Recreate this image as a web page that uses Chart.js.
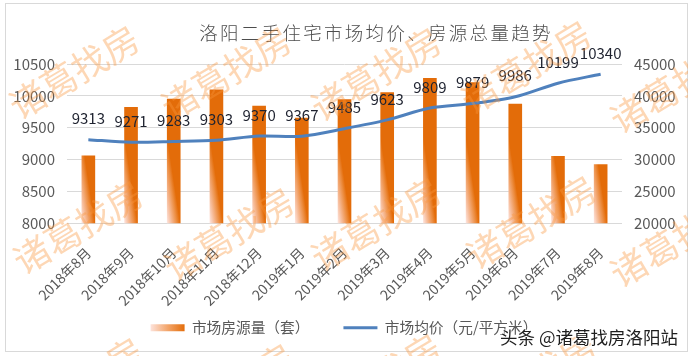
<!DOCTYPE html>
<html>
<head>
<meta charset="utf-8">
<script src="https://cdn.jsdelivr.net/npm/chart.js@4/dist/chart.umd.min.js"></script>
<style>
  html, body { margin: 0; padding: 0; background: #fff; }
  #wrap { position: relative; width: 688px; height: 356px; overflow: hidden; }
  #c { position: absolute; left: 0; top: 0; }
  #frame { position: absolute; left: 5px; top: 3px; width: 681px; height: 347px; border: 1px solid #d9d9d9; pointer-events: none; }
  #title { position: absolute; left: 376px; top: 19px; transform: translateX(-50%); white-space: nowrap;
           font-family: "Noto Sans CJK SC", sans-serif; font-weight: 300; font-size: 18.5px; letter-spacing: 2.3px; color: #4d4d4d; line-height: 26px; }
  .wm { position: absolute; white-space: nowrap; font-family: "Noto Sans CJK SC", sans-serif; font-size: 36px; line-height: 40px;
        color: rgba(250, 150, 60, 0.38); transform: translate(-50%, -50%) rotate(-31deg); pointer-events: none; }
  #credit { position: absolute; left: 500px; top: 325px; white-space: nowrap; font-family: "Noto Sans CJK SC", sans-serif; font-size: 17.5px; line-height: 24px;
            color: #1e1e1e; text-shadow: 0 0 2px #fff, 0 0 2px #fff, 1px 1px 1px #fff, -1px -1px 1px #fff; }
</style>
</head>
<body>
<div id="wrap">
  <canvas id="c" width="688" height="356"></canvas>
  <div id="title"></div>
  <div id="frame"></div>
  <div id="wms"></div>
  <div id="credit">头条 @诸葛找房洛阳站</div>
</div>
<script>
// ---- data ----
const TITLE = "洛阳二手住宅市场均价、房源总量趋势";
const CATEGORIES = ["2018年8月","2018年9月","2018年10月","2018年11月","2018年12月","2019年1月","2019年2月","2019年3月","2019年4月","2019年5月","2019年6月","2019年7月","2019年8月"];
const LISTINGS = [30600, 38200, 39500, 40950, 38400, 36500, 39400, 40500, 42750, 42100, 38700, 30500, 29200];
const AVG_PRICE = [9313, 9271, 9283, 9303, 9370, 9367, 9485, 9623, 9809, 9879, 9986, 10199, 10340];
const SERIES_NAMES = ["市场房源量（套）", "市场均价（元/平方米）"];
const LEFT_TICKS = [8000, 8500, 9000, 9500, 10000, 10500];
const RIGHT_TICKS = [20000, 25000, 30000, 35000, 40000, 45000];
const WATERMARK_TEXT = "诸葛找房";

// ---- decoration ----
document.getElementById('title').textContent = TITLE;
const WM_POS = [[73,70],[225,71],[375,72],[525,65],[674,84],
                [77,225],[228,232],[375,222],[530,220],[674,238],
                [77,382],[228,388],[375,378],[530,376],[674,394]];
const wms = document.getElementById('wms');
WM_POS.forEach(([x,y]) => {
  const d = document.createElement('div');
  d.className = 'wm'; d.textContent = WATERMARK_TEXT;
  d.style.left = x + 'px'; d.style.top = y + 'px';
  wms.appendChild(d);
});

// ---- styles ----
const BLUE = '#4f81bd';
const ORANGE = '#e36c09';
const GRID = '#d9d9d9';
const TICK_COLOR = '#595959';
const BAR_W = 13;
const SANS = '"Noto Sans CJK SC", "Liberation Sans", sans-serif';

function barGradient(ctx) {
  const chart = ctx.chart;
  if (!chart.chartArea || !chart.scales.x || !chart.scales.y1) return ORANGE;
  const x = chart.scales.x.getPixelForValue(ctx.dataIndex);
  const base = chart.scales.y1.getPixelForValue(chart.scales.y1.min);
  const x0 = x - BAR_W / 2;
  const g = chart.ctx.createLinearGradient(x0, base, x0 + 12.7, base - 1.9);
  g.addColorStop(0, '#fde4de');
  g.addColorStop(0.35, '#f6b994');
  g.addColorStop(0.75, '#ec8c3f');
  g.addColorStop(1, ORANGE);
  return g;
}

const lineLabels = {
  id: 'lineLabels',
  afterDatasetsDraw(chart) {
    const meta = chart.getDatasetMeta(1);
    const c = chart.ctx;
    c.save();
    c.font = '15px ' + SANS;
    c.fillStyle = '#1f2330';
    c.textAlign = 'center';
    c.textBaseline = 'middle';
    meta.data.forEach((pt, i) => {
      c.fillText(String(AVG_PRICE[i]), pt.x, pt.y - 21);
    });
    c.restore();
  }
};

new Chart(document.getElementById('c'), {
  data: {
    labels: CATEGORIES,
    datasets: [
      {
        type: 'bar',
        label: SERIES_NAMES[0],
        data: LISTINGS,
        yAxisID: 'y1',
        backgroundColor: barGradient,
        borderWidth: 0,
        barThickness: BAR_W,
        order: 2
      },
      {
        type: 'line',
        label: SERIES_NAMES[1],
        data: AVG_PRICE,
        yAxisID: 'y',
        borderColor: BLUE,
        backgroundColor: BLUE,
        borderWidth: 3,
        pointRadius: 0,
        tension: 0.3,
        fill: false,
        order: 1
      }
    ]
  },
  options: {
    responsive: false,
    animation: false,
    events: [],
    layout: { padding: { top: 64, bottom: 11, left: 0, right: 0 } },
    plugins: {
      title: { display: false },
      tooltip: { enabled: false },
      legend: {
        display: true,
        position: 'bottom',
        labels: {
          usePointStyle: true,
          pointStyleWidth: 34,
          boxHeight: 7,
          padding: 34,
          color: TICK_COLOR,
          font: { family: SANS, size: 14.7 },
          generateLabels(chart) {
            const g = chart.ctx.createLinearGradient(150, 0, 185, 0);
            g.addColorStop(0, '#fde4de');
            g.addColorStop(0.5, '#f3a66c');
            g.addColorStop(1, ORANGE);
            return [
              { text: SERIES_NAMES[0], fillStyle: g, strokeStyle: 'rgba(0,0,0,0)', lineWidth: 0, pointStyle: 'rect', datasetIndex: 0, hidden: false, fontColor: TICK_COLOR },
              { text: SERIES_NAMES[1], fillStyle: BLUE, strokeStyle: BLUE, lineWidth: 3, pointStyle: 'line', datasetIndex: 1, hidden: false, fontColor: TICK_COLOR }
            ];
          }
        }
      }
    },
    scales: {
      x: {
        grid: { display: false },
        border: { display: false },
        ticks: {
          color: TICK_COLOR,
          font: { family: SANS, size: 14 },
          minRotation: 45,
          maxRotation: 45,
          autoSkip: false,
          padding: 13
        },
        afterFit(s) {
          s.height = 63;
          // let the rotated labels run below the (shortened) axis box, as in the reference
          s._computeLabelArea = () => undefined;
        }
      },
      y: {
        position: 'left',
        min: LEFT_TICKS[0],
        max: LEFT_TICKS[LEFT_TICKS.length - 1],
        afterBuildTicks(s) { s.ticks = LEFT_TICKS.map(v => ({ value: v })); },
        grid: { color: GRID, lineWidth: 1, drawTicks: false },
        border: { display: false },
        ticks: { color: TICK_COLOR, font: { family: SANS, size: 15 }, padding: 12, callback: v => String(v) },
        afterFit(s) { s.width = 67; }
      },
      y1: {
        position: 'right',
        min: RIGHT_TICKS[0],
        max: RIGHT_TICKS[RIGHT_TICKS.length - 1],
        afterBuildTicks(s) { s.ticks = RIGHT_TICKS.map(v => ({ value: v })); },
        grid: { display: false, drawTicks: false },
        border: { display: false },
        ticks: { color: TICK_COLOR, font: { family: SANS, size: 15 }, padding: 12, callback: v => String(v) },
        afterFit(s) { s.width = 66; }
      }
    }
  },
  plugins: [lineLabels]
});
</script>
</body>
</html>
